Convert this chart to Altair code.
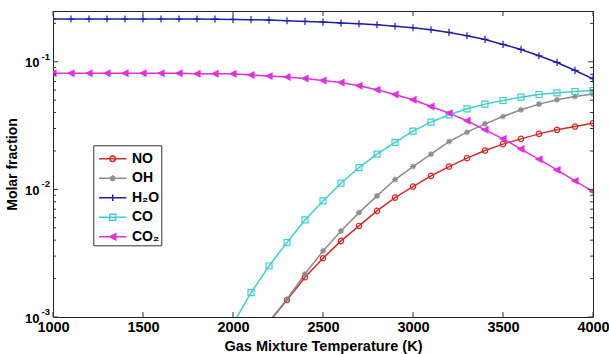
import altair as alt
import pandas as pd

# ---------------- data ----------------
temps = [1000, 1100, 1200, 1300, 1400, 1500, 1600, 1700, 1800, 1900, 2000,
         2100, 2200, 2300, 2400, 2500, 2600, 2700, 2800, 2900, 3000,
         3100, 3200, 3300, 3400, 3500, 3600, 3700, 3800, 3900, 4000]

no_vals = [None] * 12 + [0.00091, 0.00136, 0.002048, 0.002887, 0.003946, 0.005171,
                         0.006783, 0.008624, 0.01052, 0.01276, 0.0151, 0.01757,
                         0.02015, 0.02262, 0.02489, 0.02724, 0.02928, 0.03108, 0.03305]

oh_vals = [None] * 12 + [0.00092, 0.00138, 0.002175, 0.003293, 0.004727, 0.006577,
                         0.008892, 0.01194, 0.0151, 0.01888, 0.02371, 0.02809,
                         0.03264, 0.03724, 0.04203, 0.04658, 0.05035, 0.05342, 0.0558]

h2o_vals = [0.2163, 0.2163, 0.2163, 0.2163, 0.2163, 0.2163, 0.2163, 0.2163, 0.2163,
            0.2159, 0.2148, 0.2136, 0.2124, 0.2097, 0.2070, 0.2048, 0.2011, 0.1986,
            0.1951, 0.1898, 0.1848, 0.1782, 0.1698, 0.1599, 0.1496, 0.1367, 0.1249,
            0.1115, 0.0988, 0.0855, 0.0736]

co_vals = [None] * 10 + [0.00088, 0.00155, 0.00251, 0.00383, 0.00576, 0.00812,
                         0.01118, 0.01483, 0.01888, 0.02336, 0.0286, 0.03366,
                         0.0384, 0.0428, 0.04658, 0.04972, 0.05284, 0.05539,
                         0.05713, 0.05849, 0.05956]

co2_vals = [0.0812, 0.0812, 0.0812, 0.0812, 0.0812, 0.0812, 0.0812, 0.0812,
            0.0805, 0.0805, 0.0805, 0.0787, 0.0772, 0.0759, 0.0740, 0.0714,
            0.0688, 0.0648, 0.0603, 0.0554, 0.0504, 0.0446, 0.0396, 0.0345,
            0.0293, 0.0249, 0.0207, 0.0172, 0.0142, 0.01166, 0.0096]

species = ["NO", "OH", "H₂O", "CO", "CO₂"]
colors = ["#d42a2a", "#8c8c8c", "#1f1fa8", "#3fcfcf", "#e030e0"]
fills = ["transparent", "transparent", "transparent", "transparent", "#e030e0"]

x_ticks = [1000, 1500, 2000, 2500, 3000, 3500, 4000]
y_major = [0.001, 0.01, 0.1]
y_minor = [0.002, 0.003, 0.004, 0.005, 0.006, 0.007, 0.008, 0.009,
           0.02, 0.03, 0.04, 0.05, 0.06, 0.07, 0.08, 0.09, 0.2]
y_exps = ["-3", "-2", "-1"]

# marker shapes (unit paths) and legend symbols (line + marker)
marker_paths = [
    "M-0.9,0A0.9,0.9 0 1,0 0.9,0A0.9,0.9 0 1,0 -0.9,0Z",
    "M-1,0H1M0,-1V1M-0.7,-0.7L0.7,0.7M-0.7,0.7L0.7,-0.7",
    "M-1.2,0H1.2M0,-1.2V1.2",
    "M-1,-1H1V1H-1Z",
    "M-1,0L1,-1L1,1Z",
]
legend_paths = [
    "M-1.25,0H1.25M-0.25,0A0.25,0.25 0 1,0 0.25,0A0.25,0.25 0 1,0 -0.25,0Z",
    "M-1.25,0H1.25M0,-0.27V0.27M-0.19,-0.19L0.19,0.19M-0.19,0.19L0.19,-0.19",
    "M-1.25,0H1.25M0,-0.3V0.3",
    "M-1.25,0H1.25M-0.27,-0.27H0.27V0.27H-0.27Z",
    "M-1.25,0H1.25M-0.28,0L0.28,-0.28L0.28,0.28Z",
]

rows = []
for name, vals in zip(species, [no_vals, oh_vals, h2o_vals, co_vals, co2_vals]):
    for t, v in zip(temps, vals):
        if v is not None:
            rows.append({"T": t, "frac": v, "species": name})
df = pd.DataFrame(rows)

FONT = "Liberation Sans"
W, H = 540, 306

xscale = alt.Scale(domain=[1000, 4000], nice=False, zero=False)
yscale = alt.Scale(type="log", domain=[0.001, 0.25], nice=False)

x_enc = alt.X("T:Q", scale=xscale, axis=alt.Axis(
    values=x_ticks, format="d", ticks=False, domain=False, grid=False,
    labelFont=FONT, labelFontSize=14.5, labelFontWeight="bold", labelColor="black",
    labelPadding=3, labelFlush=False,
    title="Gas Mixture Temperature (K)", titleFont=FONT, titleFontSize=14.5,
    titleFontWeight="bold", titleColor="black", titleY=33, titleBaseline="alphabetic"))

y_enc = alt.Y("frac:Q", scale=yscale, axis=alt.Axis(
    labels=False, ticks=False, domain=False, grid=False,
    title="Molar fraction", titleFont=FONT, titleFontSize=14, titleFontWeight="bold",
    titleColor="black", titleX=-37, titleY=153, titleAngle=-90,
    titleAlign="center", titleBaseline="alphabetic"))

color_scale = alt.Scale(domain=species, range=colors)
fill_scale = alt.Scale(domain=species, range=fills)

lines = alt.Chart(df).mark_line(strokeWidth=1.5, clip=True).encode(
    x=x_enc, y=y_enc,
    color=alt.Color("species:N", scale=color_scale, legend=None),
)

points = alt.Chart(df).mark_point(size=36, strokeWidth=1.2, filled=False,
                                  opacity=1, clip=True).encode(
    x=x_enc, y=y_enc,
    color=alt.Color("species:N", scale=color_scale, legend=None),
    fill=alt.Fill("species:N", scale=fill_scale, legend=None),
    shape=alt.Shape("species:N", scale=alt.Scale(domain=species, range=marker_paths),
                    legend=None),
)

leg = alt.Legend(
    title=None, orient="none", legendX=40.3, legendY=134.3,
    padding=1.5, symbolOffset=5.9, labelOffset=7.3, rowPadding=0.5,
    strokeColor="#333333", fillColor="white",
    labelFont=FONT, labelFontSize=14, labelFontWeight="bold", labelColor="black",
    symbolSize=484, symbolStrokeWidth=1.5, labelLimit=200,
)

legend_layer = alt.Chart(df).transform_filter("false").mark_point(
    size=484, strokeWidth=1.5, filled=False, opacity=1).encode(
    x=x_enc, y=y_enc,
    color=alt.Color("species:N", scale=color_scale, legend=leg),
    fill=alt.Fill("species:N", scale=fill_scale, legend=leg),
    shape=alt.Shape("species:N", scale=alt.Scale(domain=species, range=legend_paths),
                    legend=leg),
)

df_xt = pd.DataFrame({"T": x_ticks})
df_ymaj = pd.DataFrame({"frac": y_major})
df_ymin = pd.DataFrame({"frac": y_minor})
df_ylab = pd.DataFrame({"frac": y_major, "base": ["10"] * 3, "exp": y_exps})

TC = "#333333"
xt_bottom = alt.Chart(df_xt).mark_rule(color=TC, strokeWidth=1).encode(
    x=x_enc, y=alt.value(H), y2=alt.value(H - 5))
xt_top = alt.Chart(df_xt).mark_rule(color=TC, strokeWidth=1).encode(
    x=x_enc, y=alt.value(0), y2=alt.value(5))
yt_left_maj = alt.Chart(df_ymaj).mark_rule(color=TC, strokeWidth=1).encode(
    y=y_enc, x=alt.value(0), x2=alt.value(5))
yt_right_maj = alt.Chart(df_ymaj).mark_rule(color=TC, strokeWidth=1).encode(
    y=y_enc, x=alt.value(W), x2=alt.value(W - 5))
yt_left_min = alt.Chart(df_ymin).mark_rule(color=TC, strokeWidth=1).encode(
    y=y_enc, x=alt.value(0), x2=alt.value(3))
yt_right_min = alt.Chart(df_ymin).mark_rule(color=TC, strokeWidth=1).encode(
    y=y_enc, x=alt.value(W), x2=alt.value(W - 3))

ylab_base = alt.Chart(df_ylab).mark_text(
    align="right", baseline="middle", font=FONT, fontSize=13, fontWeight="bold",
    color="black", dy=1.5).encode(y=y_enc, x=alt.value(-13.5), text="base:N")
ylab_exp = alt.Chart(df_ylab).mark_text(
    align="right", baseline="middle", font=FONT, fontSize=9.5, fontWeight="bold",
    color="black", dy=-5).encode(y=y_enc, x=alt.value(-3), text="exp:N")

chart = alt.layer(
    lines, points, legend_layer,
    xt_bottom, xt_top, yt_left_maj, yt_right_maj, yt_left_min, yt_right_min,
    ylab_base, ylab_exp,
).resolve_scale(
    color="independent", shape="independent", fill="independent"
).properties(
    width=W, height=H,
    autosize=alt.AutoSizeParams(type="none"),
    padding={"left": 53, "top": 11, "right": 16, "bottom": 37},
    background="white",
).configure_view(stroke="#222222", strokeWidth=1)

chart.save("out.html", embed_options={"renderer": "svg", "actions": False})
